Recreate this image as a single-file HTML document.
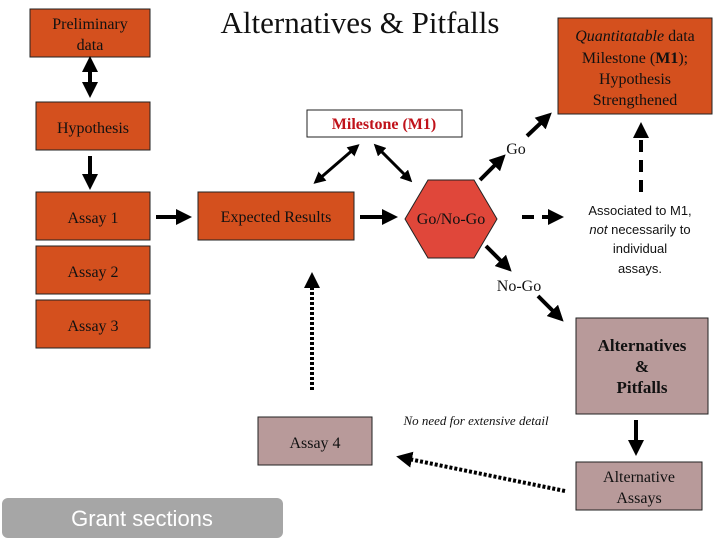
<!DOCTYPE html>
<html><head><meta charset="utf-8"><style>
body{margin:0;background:#fff;}
svg{display:block;font-family:"Liberation Serif",serif;}
</style></head><body>
<svg width="720" height="540" viewBox="0 0 720 540" xmlns="http://www.w3.org/2000/svg">
<defs>
<marker id="a" markerWidth="4" markerHeight="4" refX="2" refY="2" orient="auto-start-reverse" markerUnits="strokeWidth"><path d="M0,0 L4,2 L0,4 z" fill="#000"/></marker>
</defs>
<g stroke="#222" stroke-width="1" fill="#d4501e">
<rect x="30" y="9" width="120" height="48"/>
<rect x="36" y="102" width="114" height="48"/>
<rect x="36" y="192" width="114" height="48"/>
<rect x="36" y="246" width="114" height="48"/>
<rect x="36" y="300" width="114" height="48"/>
<rect x="198" y="192" width="156" height="48"/>
<rect x="558" y="18" width="154" height="96"/>
</g>
<rect x="307" y="110" width="155" height="27" fill="#fff" stroke="#222"/>
<polygon points="405,219 428,180 474,180 497,219 474,258 428,258" fill="#e0473a" stroke="#222"/>
<g stroke="#222" fill="#b89a9a">
<rect x="576" y="318" width="132" height="96"/>
<rect x="576" y="462" width="126" height="48"/>
<rect x="258" y="417" width="114" height="48"/>
</g>
<rect x="2" y="498" width="281" height="40" rx="6" fill="#a6a6a6"/>

<g stroke="#000" fill="none">
<line x1="90" y1="64" x2="90" y2="90" stroke-width="4" marker-start="url(#a)" marker-end="url(#a)"/>
<line x1="90" y1="156" x2="90" y2="182" stroke-width="4" marker-end="url(#a)"/>
<line x1="156" y1="217" x2="184" y2="217" stroke-width="4" marker-end="url(#a)"/>
<line x1="360" y1="217" x2="390" y2="217" stroke-width="4" marker-end="url(#a)"/>
<line x1="355" y1="148" x2="318" y2="180" stroke-width="3" marker-start="url(#a)" marker-end="url(#a)"/>
<line x1="378" y1="148" x2="408" y2="178" stroke-width="3" marker-start="url(#a)" marker-end="url(#a)"/>
<line x1="480" y1="180" x2="500" y2="160" stroke-width="4" marker-end="url(#a)"/>
<line x1="527" y1="136" x2="546" y2="118" stroke-width="4" marker-end="url(#a)"/>
<line x1="486" y1="246" x2="506" y2="266" stroke-width="4" marker-end="url(#a)"/>
<line x1="538" y1="296" x2="558" y2="316" stroke-width="4" marker-end="url(#a)"/>
<line x1="522" y1="217" x2="556" y2="217" stroke-width="4" stroke-dasharray="12,8" marker-end="url(#a)"/>
<line x1="641" y1="192" x2="641" y2="130" stroke-width="4" stroke-dasharray="12,8" marker-end="url(#a)"/>
<line x1="636" y1="420" x2="636" y2="448" stroke-width="4" marker-end="url(#a)"/>
<line x1="312" y1="390" x2="312" y2="280" stroke-width="4" stroke-dasharray="3,2" marker-end="url(#a)"/>
<line x1="565" y1="491" x2="404" y2="458" stroke-width="4" stroke-dasharray="3,2" marker-end="url(#a)"/>
</g>

<g fill="#111" font-size="16" text-anchor="middle">
<text x="90" y="29">Preliminary</text><text x="90" y="50">data</text>
<text x="93" y="133">Hypothesis</text>
<text x="93" y="223">Assay 1</text>
<text x="93" y="277">Assay 2</text>
<text x="93" y="331">Assay 3</text>
<text x="276" y="222">Expected Results</text>
<text x="451" y="224">Go/No-Go</text>
<text x="516" y="154">Go</text>
<text x="519" y="291">No-Go</text>
<text x="315" y="448">Assay 4</text>
<text x="635" y="41"><tspan font-style="italic">Quantitatable</tspan> data</text>
<text x="635" y="63">Milestone (<tspan font-weight="bold">M1</tspan>);</text>
<text x="635" y="84">Hypothesis</text>
<text x="635" y="105">Strengthened</text>
<text x="639" y="482">Alternative</text><text x="639" y="503">Assays</text>
</g>
<g font-weight="bold" font-size="17" text-anchor="middle" fill="#111">
<text x="642" y="351">Alternatives</text><text x="642" y="372">&amp;</text><text x="642" y="393">Pitfalls</text>
</g>
<text x="384" y="129" text-anchor="middle" font-weight="bold" font-size="16" fill="#c0121a">Milestone (M1)</text>
<text x="360" y="33" text-anchor="middle" font-size="31" fill="#111">Alternatives &amp; Pitfalls</text>
<g font-family="Liberation Sans,sans-serif" font-size="13" text-anchor="middle" fill="#111">
<text x="640" y="215">Associated to  M1,</text>
<text x="640" y="234"><tspan font-style="italic">not</tspan> necessarily to</text>
<text x="640" y="253">individual</text>
<text x="640" y="273">assays.</text>
</g>
<text x="476" y="425" text-anchor="middle" font-style="italic" font-size="13" fill="#111">No need for extensive detail</text>
<text x="142" y="526" text-anchor="middle" font-family="Liberation Sans,sans-serif" font-size="22" fill="#fff">Grant sections</text>
</svg>
</body></html>
